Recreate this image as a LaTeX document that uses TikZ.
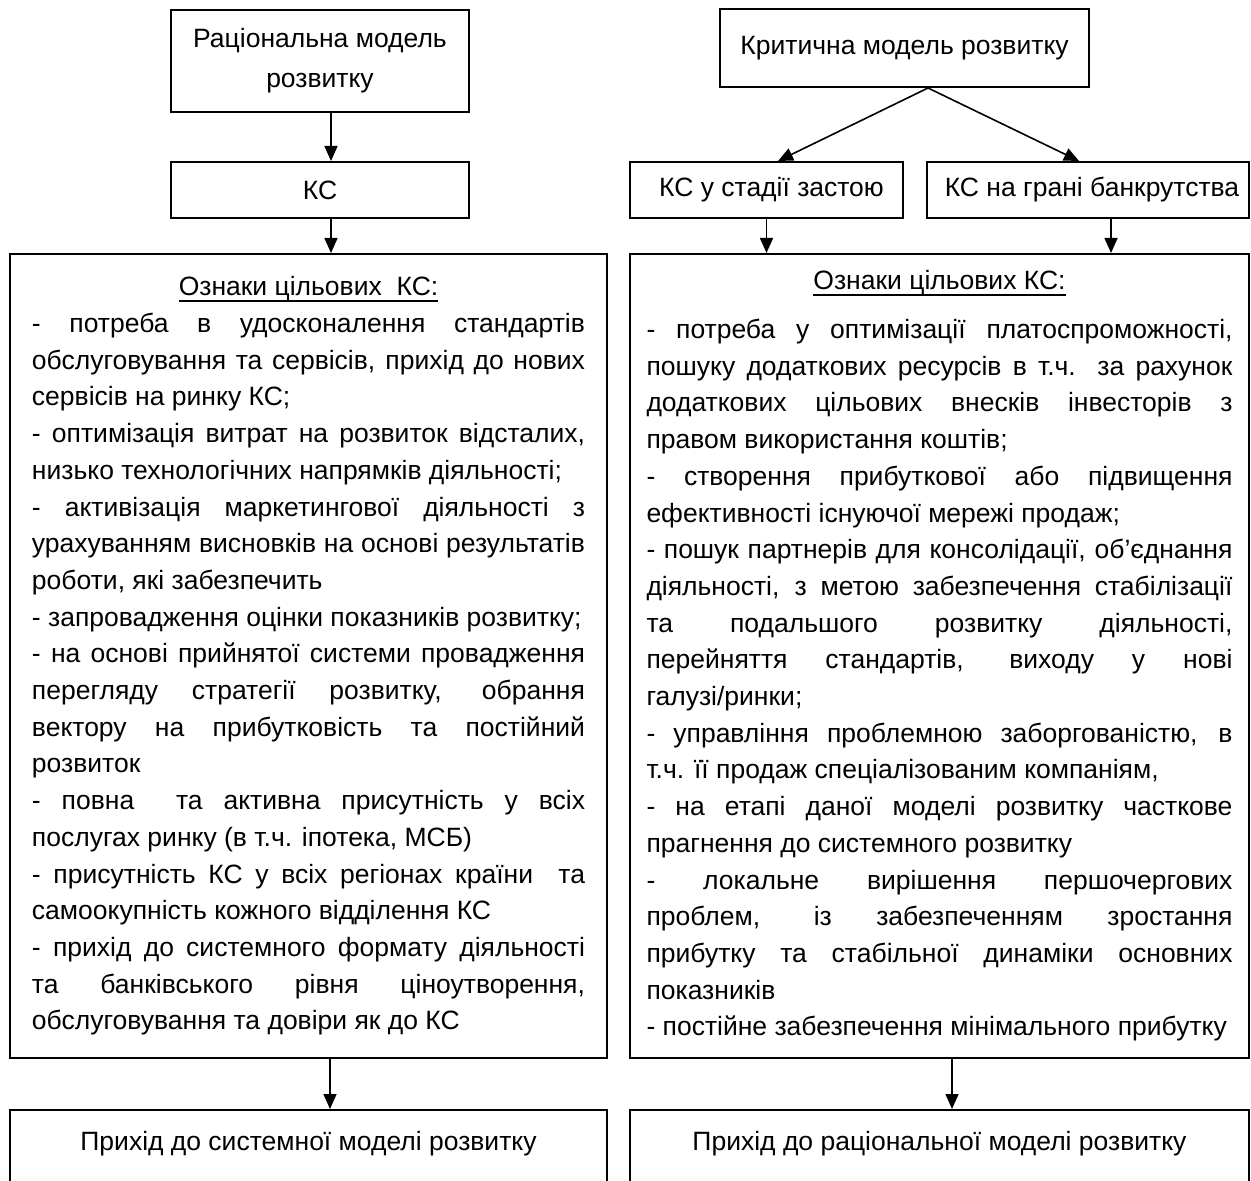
\documentclass[tikz,border=0pt]{standalone}
\usepackage{fontspec}
\setmainfont{Liberation Sans}
\usetikzlibrary{arrows.meta}

% heading with a heavier underline
\newcommand\headline[1]{\setbox0\hbox{#1}\rlap{\vrule height -2.2pt depth 3.2pt width \wd0}\box0}

\tikzset{
  box/.style={draw, line width=1pt, inner sep=0pt, font=\fontsize{13.25}{18.35}\selectfont},
  sign/.style={box, align=justify, minimum height=402pt},
  arr/.style={-{Triangle[length=7.5pt,width=6.5pt]}, line width=0.8pt},
}

\begin{document}
\begin{tikzpicture}[x=0.5pt,y=-0.5pt]
\useasboundingbox (0,0) rectangle (1251,1181);
\clip (0,0) rectangle (1251,1181);

% left branch
\node[box, minimum width=149pt, minimum height=51pt, align=center, font=\fontsize{13.25}{20}\selectfont] (rat) at (320,61) {Раціональна модель\\розвитку};
\node[box, minimum width=149pt, minimum height=28pt] (ksl) at (320,190) {КС};

\node[sign, text width=276.5pt, inner xsep=11pt] (lsig) at (308.5,656) {\tolerance=10000\emergencystretch=2em
\centerline{\headline{Ознаки цільових\ \ КС:}}
- потреба в удосконалення стандартів\linebreak обслуговування та сервісів, прихід до нових\linebreak сервісів на ринку КС;\par
- оптимізація витрат на розвиток відсталих,\linebreak низько технологічних напрямків діяльності;\par
- активізація маркетингової діяльності з\linebreak урахуванням висновків на основі результатів\linebreak роботи, які забезпечить\par
- запровадження оцінки показників розвитку;\par
- на основі прийнятої системи провадження\linebreak перегляду стратегії розвитку, обрання\linebreak вектору на прибутковість та постійний\linebreak розвиток\par
- повна\ \ та активна присутність у всіх\linebreak послугах ринку (в т.ч. іпотека, МСБ)\par
- присутність КС у всіх регіонах країни\ \ та\linebreak самоокупність кожного відділення КС\par
- прихід до системного формату діяльності\linebreak та банківського рівня ціноутворення,\linebreak обслуговування та довіри як до КС};

\node[box, anchor=north, minimum width=298.5pt, text height=20.25pt, text depth=80pt] (lend) at (308.5,1109) {Прихід до системної моделі розвитку};

% right branch
\node[box, minimum width=184.5pt, minimum height=39pt] (crit) at (904.5,48) {Критична модель розвитку};
\node[box, minimum width=136.5pt, minimum height=28pt] (stag) at (766.5,190) {\hspace*{5pt}КС у стадії застою};
\node[box, minimum width=161pt, minimum height=28pt] (bank) at (1088,190) {\hspace*{4pt}КС на грані банкрутства};

\node[sign, text width=293pt, inner xsep=8.25pt] (rsig) at (939.5,656) {\tolerance=10000\emergencystretch=2em
\centerline{\headline{Ознаки цільових КС:}}\vspace{6pt}
- потреба у оптимізації платоспроможності,\linebreak пошуку додаткових ресурсів в т.ч. за рахунок\linebreak додаткових цільових внесків інвесторів з\linebreak правом використання коштів;\par
- створення прибуткової або підвищення\linebreak ефективності існуючої мережі продаж;\par
- пошук партнерів для консолідації, об’єднання\linebreak діяльності, з метою забезпечення стабілізації\linebreak та подальшого розвитку діяльності,\linebreak перейняття стандартів, виходу у нові\linebreak галузі/ринки;\par
- управління проблемною заборгованістю, в\linebreak т.ч. її продаж спеціалізованим компаніям,\par
- на етапі даної моделі розвитку часткове\linebreak прагнення до системного розвитку\par
- локальне вирішення першочергових\linebreak проблем, із забезпеченням зростання\linebreak прибутку та стабільної динаміки основних\linebreak показників\par
- постійне забезпечення мінімального прибутку};

\node[box, anchor=north, minimum width=309.5pt, text height=20.25pt, text depth=80pt] (rend) at (939.5,1109) {Прихід до раціональної моделі розвитку};

% arrows
\draw[arr] ([xshift=5.5pt]rat.south) -- ([xshift=5.5pt]ksl.north);
\draw[arr] ([xshift=5.5pt]ksl.south) -- ([xshift=5.5pt]ksl.south |- lsig.north);
\draw[arr] ([xshift=10.75pt]lsig.south) -- ([xshift=10.75pt]lend.north);

\draw[arr] ([xshift=11.75pt]crit.south) -- ([xshift=5.75pt]stag.north);
\draw[arr] ([xshift=11.75pt]crit.south) -- ([xshift=-4.5pt]bank.north);
\draw[arr] (stag.south) -- (stag.south |- rsig.north);
\draw[arr] ([xshift=11.5pt]bank.south) -- ([xshift=11.5pt]bank.south |- rsig.north);
\draw[arr] ([xshift=6.25pt]rsig.south) -- ([xshift=6.25pt]rend.north);
\end{tikzpicture}
\end{document}
